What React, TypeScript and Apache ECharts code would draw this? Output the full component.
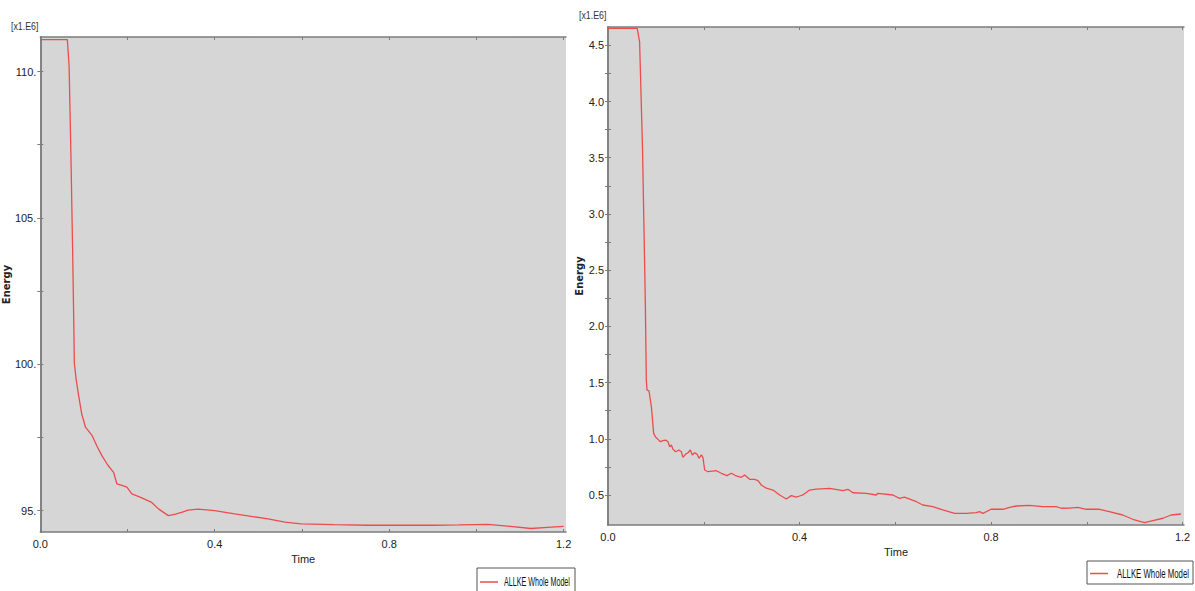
import React, { useEffect, useRef } from "react";
import * as echarts from "echarts";

const SERIES_NAME = "ALLKE Whole Model";

// Left panel (values in x1.E6)
const leftT = [0, 0.03, 0.062, 0.066, 0.07, 0.074, 0.077, 0.078, 0.082, 0.088, 0.095, 0.1036, 0.119, 0.13, 0.1415, 0.155, 0.168, 0.1757, 0.187, 0.1985, 0.21, 0.23, 0.2555, 0.271, 0.2936, 0.31, 0.324, 0.339, 0.362, 0.4, 0.4456, 0.522, 0.561, 0.598, 0.674, 0.751, 0.827, 0.904, 0.96, 1.026, 1.071, 1.125, 1.163, 1.2];
const leftE = [111.09, 111.09, 111.09, 110.2, 107.3, 104.0, 101.19, 100.05, 99.5, 98.92, 98.3, 97.85, 97.56, 97.2, 96.87, 96.55, 96.31, 95.91, 95.86, 95.8, 95.57, 95.45, 95.28, 95.06, 94.83, 94.88, 94.94, 95.02, 95.05, 95.0, 94.89, 94.72, 94.61, 94.55, 94.52, 94.5, 94.5, 94.5, 94.51, 94.53, 94.47, 94.39, 94.43, 94.46];

// Right panel (values in x1.E6)
const rightT = [0, 0.03, 0.061, 0.066, 0.072, 0.078, 0.08, 0.0815, 0.0856, 0.0906, 0.0954, 0.0996, 0.1044, 0.1094, 0.1148, 0.1205, 0.1253, 0.1288, 0.1323, 0.1357, 0.1413, 0.1482, 0.1532, 0.1566, 0.1622, 0.167, 0.172, 0.1762, 0.181, 0.1858, 0.19, 0.195, 0.1983, 0.2019, 0.2088, 0.2263, 0.2367, 0.2484, 0.2576, 0.268, 0.2785, 0.2854, 0.2958, 0.3063, 0.3132, 0.3202, 0.3307, 0.3445, 0.3585, 0.3724, 0.3829, 0.3933, 0.4002, 0.407, 0.421, 0.435, 0.463, 0.4906, 0.501, 0.5115, 0.5394, 0.5603, 0.5637, 0.595, 0.609, 0.619, 0.644, 0.6576, 0.678, 0.699, 0.724, 0.748, 0.769, 0.776, 0.783, 0.8, 0.8177, 0.825, 0.8386, 0.8526, 0.88, 0.908, 0.936, 0.9466, 0.964, 0.981, 0.9987, 1.0265, 1.047, 1.075, 1.096, 1.1205, 1.138, 1.159, 1.176, 1.197];
const rightE = [4.65, 4.65, 4.65, 4.53, 3.6, 2.2, 1.522, 1.433, 1.427, 1.285, 1.048, 1.013, 0.995, 0.974, 0.983, 0.989, 0.974, 0.929, 0.944, 0.906, 0.885, 0.9, 0.885, 0.835, 0.864, 0.876, 0.9, 0.856, 0.876, 0.864, 0.826, 0.856, 0.835, 0.722, 0.707, 0.716, 0.693, 0.672, 0.693, 0.669, 0.657, 0.678, 0.639, 0.639, 0.627, 0.589, 0.56, 0.544, 0.5, 0.464, 0.494, 0.48, 0.491, 0.5, 0.544, 0.553, 0.559, 0.538, 0.551, 0.52, 0.515, 0.5, 0.515, 0.5, 0.47, 0.48, 0.44, 0.411, 0.396, 0.367, 0.337, 0.337, 0.343, 0.352, 0.337, 0.373, 0.373, 0.373, 0.39, 0.402, 0.408, 0.396, 0.396, 0.382, 0.384, 0.39, 0.373, 0.373, 0.352, 0.322, 0.284, 0.254, 0.272, 0.293, 0.322, 0.331];

const xTicks = [0, 0.2, 0.4, 0.6, 0.8, 1.0, 1.2];
const xLabels = [0, 0.4, 0.8, 1.2];
const leftYTicks = [95, 97.5, 100, 102.5, 105, 107.5, 110];
const leftYLabels = [95, 100, 105, 110];
const rightYTicks = [0.5, 0.75, 1.0, 1.25, 1.5, 1.75, 2.0, 2.25, 2.5, 2.75, 3.0, 3.25, 3.5, 3.75, 4.0, 4.25, 4.5];
const rightYLabels = [0.5, 1.0, 1.5, 2.0, 2.5, 3.0, 3.5, 4.0, 4.5];

const FONT = "'Liberation Sans', Arial, sans-serif";
const AXIS_COLOR = "#7c7c7c";
const LINE_COLOR = "#ee4c4c";

function axesFor(gi: number, xMax: number, yMin: number, yMax: number, yTicks: number[], yLabels: number[], yFmt: (v: number) => string) {
  const lineStyle = { color: AXIS_COLOR, width: 1.5 };
  const tick = { inside: true, length: 3, lineStyle: { color: AXIS_COLOR } };
  const xAxes = [
    {
      gridIndex: gi, type: "value", min: 0, max: xMax, position: "bottom",
      axisLine: { show: true, lineStyle },
      axisTick: { ...tick, customValues: xTicks },
      axisLabel: { customValues: xLabels, formatter: (v: number) => v.toFixed(1), margin: 6, color: "#222", fontFamily: FONT, fontSize: 11 },
      splitLine: { show: false },
      name: "Time", nameLocation: "middle", nameGap: 21,
      nameTextStyle: { color: "#222", fontFamily: FONT, fontSize: 11 },
    },
    {
      gridIndex: gi, type: "value", min: 0, max: xMax, position: "top",
      axisLine: { show: true, lineStyle },
      axisTick: { ...tick, customValues: xTicks },
      axisLabel: { show: false },
      splitLine: { show: false },
    },
  ];
  const yAxes = [
    {
      gridIndex: gi, type: "value", min: yMin, max: yMax, position: "left",
      axisLine: { show: true, lineStyle },
      axisTick: { ...tick, customValues: yTicks },
      axisLabel: { customValues: yLabels, formatter: yFmt, margin: 4, color: "#222", fontFamily: FONT, fontSize: 11 },
      splitLine: { show: false },
      name: "Energy", nameLocation: "middle", nameGap: 20, nameRotate: 90,
      nameTextStyle: { color: "#222", fontFamily: "'DejaVu Sans', sans-serif", fontSize: 10, fontWeight: "bold" },
    },
    {
      gridIndex: gi, type: "value", min: yMin, max: yMax, position: "right",
      axisLine: { show: true, lineStyle },
      axisTick: { ...tick, customValues: yTicks },
      axisLabel: { show: false },
      splitLine: { show: false },
    },
  ];
  return { xAxes, yAxes };
}

function legendBox(x: number, y: number, w: number, h: number, textX: number, textScale: number) {
  const cy = h / 2 + 1;
  return {
    type: "group", x, y,
    children: [
      { type: "rect", shape: { x: 0, y: 0, width: w, height: h }, style: { fill: "#ffffff", stroke: "#555", lineWidth: 1 } },
      { type: "line", shape: { x1: 3, y1: cy, x2: 21, y2: cy }, style: { stroke: LINE_COLOR, lineWidth: 1.5 } },
      {
        type: "text", x: textX, y: cy, scaleX: textScale,
        style: { text: SERIES_NAME, fill: "#111", font: `13px ${FONT}`, textAlign: "left", textVerticalAlign: "middle" },
      },
    ],
  };
}

export default function App() {
  const ref = useRef<HTMLDivElement>(null);
  useEffect(() => {
    if (!ref.current) return;
    const chart = echarts.init(ref.current, null, { renderer: "svg" });
    const L = axesFor(0, 1.2055, 94.27, 111.18, leftYTicks, leftYLabels, (v: number) => v.toFixed(0) + ".");
    const R = axesFor(1, 1.203, 0.233, 4.663, rightYTicks, rightYLabels, (v: number) => v.toFixed(1));
    chart.setOption({
      animation: false,
      backgroundColor: "#ffffff",
      grid: [
        { left: 38, top: 37, width: 528, height: 495, show: true, backgroundColor: "#d6d6d6", borderWidth: 0 },
        { left: 608, top: 27, width: 576, height: 498, show: true, backgroundColor: "#d6d6d6", borderWidth: 0 },
      ],
      xAxis: [...L.xAxes, ...R.xAxes],
      yAxis: [...L.yAxes, ...R.yAxes],
      graphic: [
        { type: "text", x: 11, y: 21, scaleX: 0.8, style: { text: "[x1.E6]", fill: "#333", font: `11px ${FONT}` } },
        { type: "text", x: 579, y: 10, scaleX: 0.8, style: { text: "[x1.E6]", fill: "#333", font: `11px ${FONT}` } },
        legendBox(477, 568, 98, 26, 27, 0.55),
        legendBox(1087, 561, 106, 23, 30, 0.6),
      ],
      series: [
        {
          name: SERIES_NAME, type: "line", xAxisIndex: 0, yAxisIndex: 0, symbol: "none",
          lineStyle: { color: LINE_COLOR, width: 1.3 }, itemStyle: { color: LINE_COLOR },
          data: leftT.map((t, i) => [t, leftE[i]]),
        },
        {
          name: SERIES_NAME, type: "line", xAxisIndex: 2, yAxisIndex: 2, symbol: "none",
          lineStyle: { color: LINE_COLOR, width: 1.3 }, itemStyle: { color: LINE_COLOR },
          data: rightT.map((t, i) => [t, rightE[i]]),
        },
      ],
    });
    return () => chart.dispose();
  }, []);
  return <div ref={ref} style={{ position: "fixed", left: 0, top: 0, width: 1195, height: 591 }} />;
}
